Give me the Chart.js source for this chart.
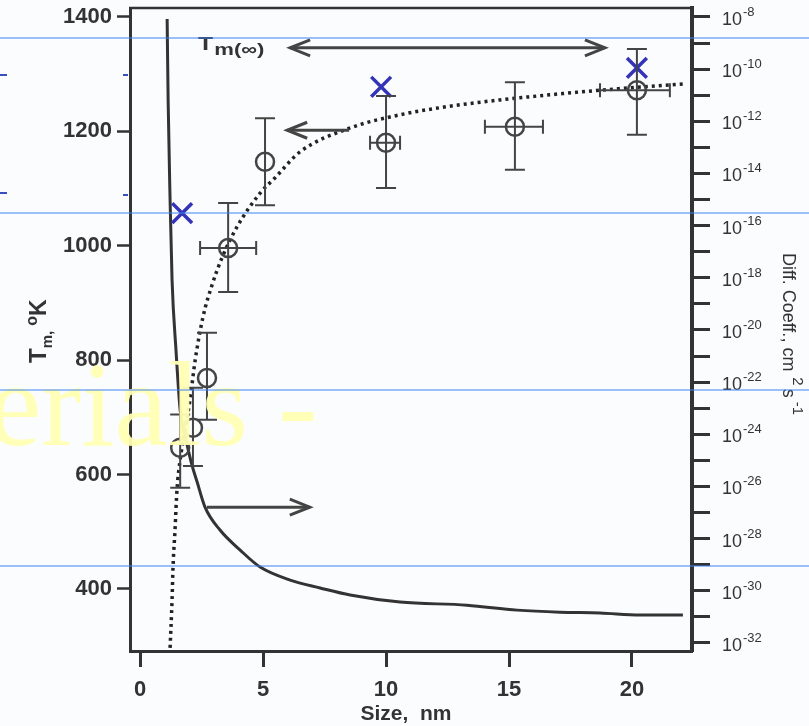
<!DOCTYPE html>
<html>
<head>
<meta charset="utf-8">
<script src="https://cdn.jsdelivr.net/npm/chart.js@4.4.1/dist/chart.umd.min.js"></script>
<style>
  html, body { margin: 0; padding: 0; background: #fbfcfd; }
  #wrap { width: 809px; height: 726px; }
</style>
</head>
<body>
<div id="wrap"><canvas id="chart" width="809" height="726"></canvas></div>
<script>
// ============ DATA ============

// solid curve: diffusion coefficient (log10, cm^2/s) vs size, right axis
const diffSize = [1.10, 1.14, 1.22, 1.30, 1.46, 1.63, 1.87, 2.11, 2.32, 2.64, 3.25, 4.07, 4.88, 6.10, 7.32, 8.54, 10.57, 13.29, 15.33, 17.07, 18.70, 20.33, 22.07];
const diffLog = [-8.08, -11.18, -15.02, -18.08, -20.77, -23.07, -24.22, -25.18, -25.83, -26.79, -27.67, -28.44, -29.09, -29.59, -29.89, -30.16, -30.43, -30.55, -30.74, -30.82, -30.85, -30.93, -30.93];

// dotted curve: melting temperature vs size, left axis
const tmSize = [1.22, 1.30, 1.34, 1.42, 1.50, 1.63, 1.83, 2.03, 2.24, 2.56, 2.93, 3.33, 3.94, 4.88, 5.49, 6.50, 8.54, 10.57, 12.60, 14.63, 16.67, 18.70, 22.07];
const tmCurve = [297, 381, 439, 503, 573, 626, 678, 731, 800, 876, 932, 979, 1033, 1092, 1119, 1164, 1206, 1229, 1244, 1255, 1264, 1272, 1283];

// measured points with error bars
const ptSize = [1.63, 2.15, 2.72, 3.58, 5.08, 10.0, 15.24, 20.2];
const ptTm = [647, 682, 769, 996, 1147, 1180, 1208, 1272];
const ptTmLow = [577, 615, 696, 919, 1071, 1101, 1133, 1194];
const ptTmHigh = [705, 752, 848, 1075, 1223, 1262, 1286, 1344];
const ptSizeLow = [null, null, null, 2.44, null, 9.35, 14.02, 18.7];
const ptSizeHigh = [null, null, null, 4.72, null, 10.57, 16.38, 21.54];

// blue hand-drawn crosses
const markSize = [1.71, 9.8, 20.2];
const markTm = [1057, 1278, 1311];

// axes
const xTicks = [0, 5, 10, 15, 20];
const tmTicks = [400, 600, 800, 1000, 1200, 1400];
const diffExps = [-8, -9, -10, -11, -12, -13, -14, -15, -16, -17, -18, -19, -20, -21, -22, -23, -24, -25, -26, -27, -28, -29, -30, -31, -32];

const INK = "#333";
const BLUE_X = "#3434b8";
const SANS = "'Liberation Sans', Arial, sans-serif";

// ============ HELPERS ============

function arrowHead(ctx, x, y, dir) {
    ctx.beginPath();
    ctx.moveTo(x - dir * 20, y - 8);
    ctx.lineTo(x, y);
    ctx.lineTo(x - dir * 20, y + 8);
    ctx.stroke();
}

function hArrow(ctx, x1, x2, y, heads) {
    ctx.beginPath();
    ctx.moveTo(x1, y);
    ctx.lineTo(x2, y);
    ctx.stroke();
    if (heads.left) arrowHead(ctx, x1, y, -1);
    if (heads.right) arrowHead(ctx, x2, y, 1);
}

function noPad(s) {
    s.paddingTop = 0;
    s.paddingBottom = 0;
    s.paddingLeft = 0;
    s.paddingRight = 0;
}

// ============ PLUGINS ============

const errorBars = {
    id: "errorBars",
    afterDatasetsDraw(chart) {
        const { ctx, scales: { x, y } } = chart;
        ctx.save();
        ctx.strokeStyle = "#444";
        ctx.lineWidth = 2;
        ptSize.forEach((s, i) => {
            const px = x.getPixelForValue(s);
            const py = y.getPixelForValue(ptTm[i]);
            const lo = y.getPixelForValue(ptTmLow[i]);
            const hi = y.getPixelForValue(ptTmHigh[i]);
            ctx.beginPath();
            ctx.moveTo(px, lo); ctx.lineTo(px, hi);
            ctx.moveTo(px - 10, lo); ctx.lineTo(px + 10, lo);
            ctx.moveTo(px - 10, hi); ctx.lineTo(px + 10, hi);
            if (ptSizeLow[i] !== null) {
                const l = x.getPixelForValue(ptSizeLow[i]);
                const r = x.getPixelForValue(ptSizeHigh[i]);
                ctx.moveTo(l, py); ctx.lineTo(r, py);
                ctx.moveTo(l, py - 7); ctx.lineTo(l, py + 7);
                ctx.moveTo(r, py - 7); ctx.lineTo(r, py + 7);
            }
            ctx.stroke();
        });
        ctx.restore();
    }
};

const decorations = {
    id: "decorations",
    afterDraw(chart) {
        const { ctx, chartArea, scales: { x, y, yR } } = chart;
        ctx.save();

        // top frame
        ctx.strokeStyle = INK;
        ctx.lineWidth = 2.5;
        ctx.beginPath();
        ctx.moveTo(chartArea.left - 1, chartArea.top);
        ctx.lineTo(chartArea.right + 2, chartArea.top);
        ctx.stroke();

        // right axis labels: 10 with exponent
        ctx.fillStyle = INK;
        ctx.textAlign = "left";
        ctx.textBaseline = "alphabetic";
        diffExps.filter(e => e % 2 === 0).forEach(e => {
            const py = yR.getPixelForValue(e);
            ctx.font = "18px " + SANS;
            ctx.fillText("10", 722, py + 8);
            const w = ctx.measureText("10").width;
            ctx.font = "13px " + SANS;
            ctx.fillText(String(e), 722 + w + 1, py - 1);
        });

        // arrows
        ctx.strokeStyle = "#444";
        ctx.lineWidth = 3;
        hArrow(ctx, x.getPixelForValue(6.1), x.getPixelForValue(18.9), y.getPixelForValue(1346), { left: true, right: true });
        hArrow(ctx, x.getPixelForValue(5.98), x.getPixelForValue(8.5), y.getPixelForValue(1202), { left: true });
        hArrow(ctx, x.getPixelForValue(2.72), x.getPixelForValue(6.9), y.getPixelForValue(543), { right: true });

        // Tm(inf) label, stretched like the scan
        ctx.save();
        ctx.translate(x.getPixelForValue(2.35), y.getPixelForValue(1346));
        ctx.scale(1.3, 1);
        ctx.font = "bold 19px " + SANS;
        ctx.fillText("T", 0, 2);
        const tw = ctx.measureText("T").width + 1;
        ctx.font = "bold 17px " + SANS;
        ctx.fillText("m(\u221E)", tw, 7);
        ctx.restore();

        // x title
        ctx.font = "bold 21px " + SANS;
        ctx.textAlign = "center";
        ctx.fillText("Size,  nm", 406, 720);

        // left title (rotated, reads upward)
        ctx.save();
        ctx.translate(46, 363);
        ctx.rotate(-Math.PI / 2);
        ctx.textAlign = "left";
        let lx = 0;
        ctx.font = "bold 24px " + SANS;
        ctx.fillText("T", lx, 0);
        lx += ctx.measureText("T").width;
        ctx.font = "bold 15px " + SANS;
        ctx.fillText("m,", lx, 6);
        lx += ctx.measureText("m, ").width + 1;
        ctx.font = "bold 16px " + SANS;
        ctx.fillText("o", lx, -9);
        lx += ctx.measureText("o").width;
        ctx.font = "bold 23px " + SANS;
        ctx.fillText("K", lx, 0);
        ctx.restore();

        // right title (rotated, reads downward)
        ctx.save();
        ctx.translate(783, 253);
        ctx.rotate(Math.PI / 2);
        ctx.textAlign = "left";
        let rx = 0;
        ctx.font = "18px " + SANS;
        ctx.fillText("Diff. Coeff., cm", rx, 0);
        rx += ctx.measureText("Diff. Coeff., cm").width + 6;
        ctx.font = "15px " + SANS;
        ctx.fillText("2", rx, -10);
        rx += ctx.measureText("2").width + 3;
        ctx.font = "18px " + SANS;
        ctx.fillText("s", rx, 0);
        rx += ctx.measureText("s").width + 4;
        ctx.font = "15px " + SANS;
        ctx.fillText("-1", rx, -10);
        ctx.restore();

        // watermark
        ctx.font = "120px 'Liberation Serif', 'Times New Roman', serif";
        ctx.fillStyle = "rgba(255, 255, 180, 0.95)";
        ctx.textAlign = "left";
        ctx.fillText("erials -", -12, 445);

        // scan lines
        ctx.strokeStyle = "#3d82f5";
        ctx.lineWidth = 1.2;
        [38, 213, 390, 566].forEach(ly => {
            ctx.beginPath();
            ctx.moveTo(0, ly);
            ctx.lineTo(809, ly);
            ctx.stroke();
        });
        // small blue marks at the left edge / axis
        ctx.strokeStyle = "#3a4ec0";
        ctx.lineWidth = 2;
        [[0, 75, 7, 75], [0, 193, 7, 193], [123, 75, 128, 75], [123, 195, 128, 195]].forEach(m => {
            ctx.beginPath();
            ctx.moveTo(m[0], m[1]);
            ctx.lineTo(m[2], m[3]);
            ctx.stroke();
        });
        ctx.restore();
    }
};

// ============ CHART ============

const tickFont = { family: SANS, weight: "bold", size: 22 };

new Chart(document.getElementById("chart").getContext("2d"), {
    data: {
        datasets: [
            {
                type: "scatter",
                label: "crosses",
                data: markSize.map((s, i) => ({ x: s, y: markTm[i] })),
                yAxisID: "y",
                pointStyle: "crossRot",
                pointRadius: 14,
                borderColor: BLUE_X,
                borderWidth: 3.5,
            },
            {
                type: "scatter",
                label: "points",
                data: ptSize.map((s, i) => ({ x: s, y: ptTm[i] })),
                yAxisID: "y",
                pointStyle: "circle",
                pointRadius: 9,
                backgroundColor: "rgba(0,0,0,0)",
                borderColor: "#444",
                borderWidth: 2.5,
            },
            {
                type: "line",
                label: "Tm",
                data: tmSize.map((s, i) => ({ x: s, y: tmCurve[i] })),
                yAxisID: "y",
                borderColor: "#222",
                borderWidth: 3.5,
                borderDash: [3, 4],
                pointRadius: 0,
                cubicInterpolationMode: "monotone",
                fill: false,
            },
            {
                type: "line",
                label: "Diff",
                data: diffSize.map((s, i) => ({ x: s, y: diffLog[i] })),
                yAxisID: "yR",
                borderColor: "#333",
                borderWidth: 3,
                pointRadius: 0,
                cubicInterpolationMode: "monotone",
                fill: false,
            },
        ]
    },
    options: {
        responsive: false,
        animation: false,
        layout: { padding: { top: 8 }, autoPadding: false },
        plugins: { legend: { display: false }, tooltip: { enabled: false } },
        scales: {
            x: {
                type: "linear",
                position: "bottom",
                min: -0.41,
                max: 22.44,
                afterBuildTicks: s => { s.ticks = xTicks.map(v => ({ value: v })); },
                afterFit: s => { s.height = 75; noPad(s); },
                ticks: { color: INK, font: tickFont, padding: 10, maxRotation: 0 },
                grid: { drawOnChartArea: false, tickLength: 16, tickWidth: 3, tickColor: INK },
                border: { display: true, width: 3, color: INK },
            },
            y: {
                type: "linear",
                position: "left",
                min: 291.6,
                max: 1415.7,
                afterBuildTicks: s => { s.ticks = tmTicks.map(v => ({ value: v })); },
                afterFit: s => { s.width = 130; noPad(s); },
                ticks: { color: INK, font: tickFont, padding: 5, callback: v => String(v) },
                grid: { drawOnChartArea: false, tickLength: 13, tickWidth: 2.5, tickColor: INK },
                border: { display: true, width: 3, color: INK },
            },
            yR: {
                type: "linear",
                position: "right",
                min: -32.307,
                max: -7.655,
                afterBuildTicks: s => { s.ticks = diffExps.map(v => ({ value: v })); },
                afterFit: s => { s.width = 117; noPad(s); },
                ticks: { display: false },
                grid: { drawOnChartArea: false, tickLength: 18, tickWidth: 3, tickColor: INK },
                border: { display: true, width: 4, color: INK },
            },
        }
    },
    plugins: [errorBars, decorations]
});
</script>
</body>
</html>
